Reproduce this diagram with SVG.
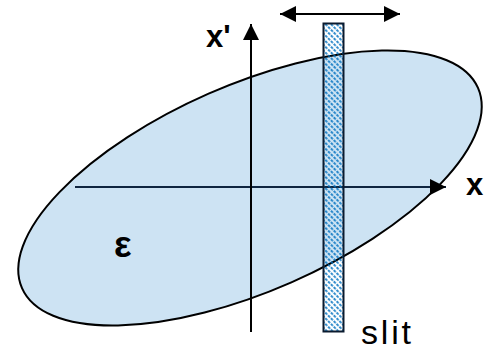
<svg xmlns="http://www.w3.org/2000/svg" width="495" height="351" viewBox="0 0 495 351">
<style>
.lbl{font-family:"Liberation Sans",Arial,sans-serif;font-weight:bold;fill:#000}
.ax{stroke:#000;stroke-width:2;fill:none}
</style>
<defs>
<pattern id="hatch" width="4" height="4" patternUnits="userSpaceOnUse" patternTransform="rotate(-45)">
<line x1="1" y1="0" x2="1" y2="4" stroke="#0070C0" stroke-width="1.6" stroke-dasharray="1.8 1.2"/>
</pattern>
<marker id="ah" viewBox="0 0 16 16" refX="16" refY="8" markerWidth="16" markerHeight="16" markerUnits="userSpaceOnUse" orient="auto-start-reverse">
<path d="M0,0 L16,8 L0,16 Z" fill="#000"/>
</marker>
</defs>
<g id="beam">
<ellipse cx="250" cy="188" rx="249" ry="103" transform="rotate(-23.7 250 188)" fill="#CDE3F3" stroke="#000" stroke-width="2"/>
</g>
<g id="connectors">
<line x1="75" y1="187" x2="446" y2="187" stroke="#0F2540" stroke-width="2" marker-end="url(#ah)"/>
<line x1="251" y1="332" x2="251" y2="24" class="ax" marker-end="url(#ah)"/>
<line x1="280" y1="14" x2="400" y2="14" class="ax" marker-start="url(#ah)" marker-end="url(#ah)"/>
</g>
<g id="slit">
<rect x="323.5" y="23.5" width="20" height="308" fill="url(#hatch)" stroke="#0A1A2E" stroke-width="2"/>
</g>
<g id="labels">
<text class="lbl" x="206" y="47" font-size="31">x'</text>
<text class="lbl" x="466" y="195" font-size="31">x</text>
<text class="lbl" x="114" y="257" font-size="37">ε</text>
<text x="361" y="344" font-family="Liberation Sans,Arial,sans-serif" font-size="34" textLength="50" lengthAdjust="spacing" fill="#000">slit</text>
</g>
</svg>
